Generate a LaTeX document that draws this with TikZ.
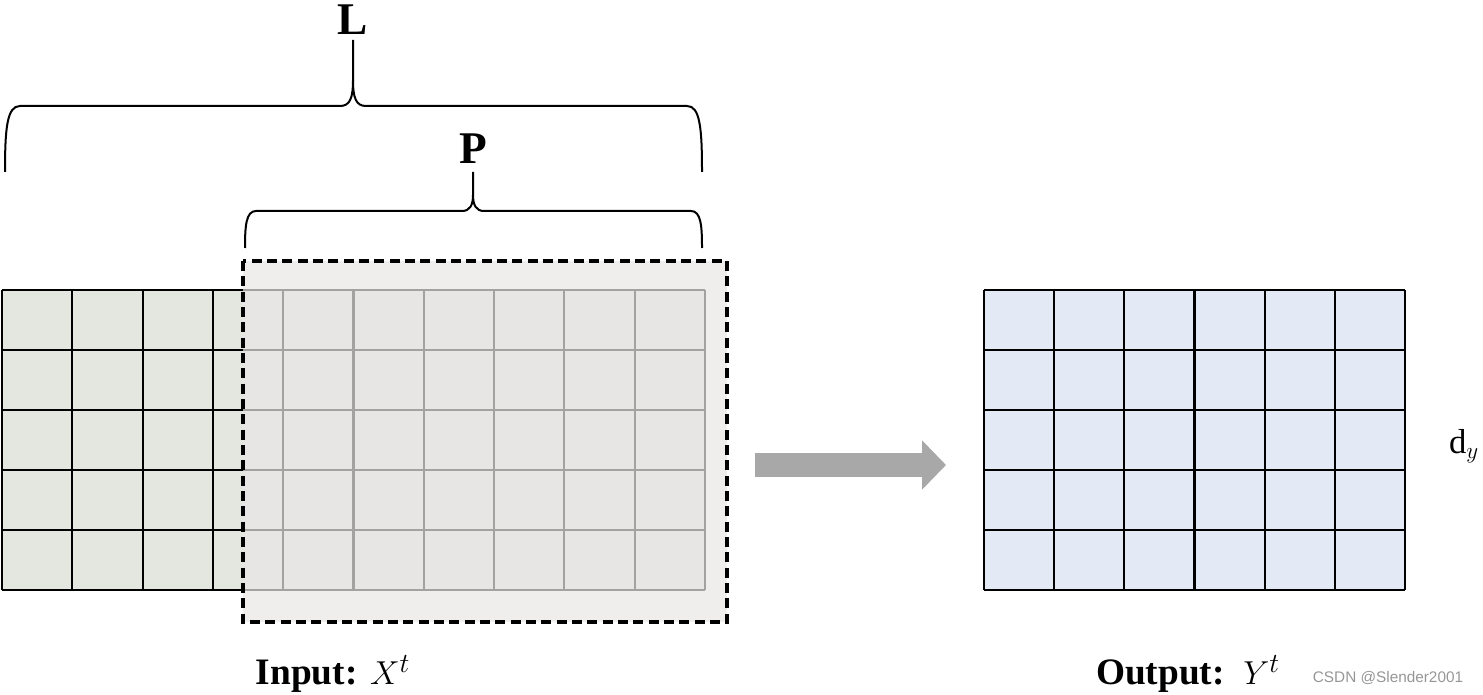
\documentclass[tikz,border=0pt]{standalone}
\usepackage{fontspec}
\setmainfont{Liberation Serif}
\setsansfont{Liberation Sans}
\usetikzlibrary{arrows.meta}
\definecolor{INgreen}{RGB}{228, 231, 224}
\definecolor{OUTblue}{RGB}{227, 234, 246}
\definecolor{WINpink}{RGB}{234, 230, 230}
\definecolor{ARRgray}{RGB}{168, 168, 168}
\definecolor{WMgray}{RGB}{150, 150, 150}
\tikzset{
  gridline/.style={line width=1.6pt, black},
  brace/.style={line width=1.5pt, black},
  window/.style={fill=WINpink, fill opacity=0.7, draw=black, draw opacity=1,
    dash pattern=on 7.5pt off 4pt, line width=2.6pt},
  bigarrow/.style={-{Triangle[length=18pt, width=36pt]}, line width=18pt, ARRgray},
  bold/.style={font=\fontsize{34}{36}\selectfont\bfseries, inner sep=0pt},
  caption/.style={font=\fontsize{28}{30}\selectfont\bfseries, inner sep=0pt},
}

\begin{document}
\begin{tikzpicture}[x=0.75pt, y=-0.75pt]
    \useasboundingbox (0,0) rectangle (1483,695);
    % input grid
    \fill[INgreen] (2,290) rectangle (705,590);
    \foreach \i in {0,...,10} \draw[gridline] (2+70.3*\i,290) -- (2+70.3*\i,590);
    \foreach \j in {0,...,5} \draw[gridline] (2,290+60*\j) -- (705,290+60*\j);
    % window
    \draw[window] (243,261) rectangle (727,622);
    % output grid
    \fill[OUTblue] (984,290) rectangle (1405,590);
    \foreach \i in {0,...,6} \draw[gridline] (984+70.17*\i,290) -- (984+70.17*\i,590);
    \foreach \j in {0,...,5} \draw[gridline] (984,290+60*\j) -- (1405,290+60*\j);
    % braces
    \draw[brace] (5,172) .. controls (5,128) and (7,106) .. (20,106) -- (340,106)
      .. controls (350,106) and (353,98) .. (353,80) -- (353,40);
    \draw[brace] (702,172) .. controls (702,128) and (700,106) .. (687,106) -- (366,106)
      .. controls (356,106) and (353,98) .. (353,80);
    \draw[brace] (245,248) .. controls (245,226) and (246,211) .. (256,211) -- (462,211)
      .. controls (470,211) and (473,205) .. (473,195) -- (473,172);
    \draw[brace] (702,248) .. controls (702,226) and (701,211) .. (691,211) -- (484,211)
      .. controls (476,211) and (473,205) .. (473,195);
    \node[bold] (lblL) at (353,20) {L};
    \node[bold] (lblP) at (473,149) {P};
    % arrow
    \coordinate (arrS) at (755,465);
    \coordinate (arrE) at (946,465);
    \draw[bigarrow] (arrS) -- (arrE);
    % labels
    \node[caption] (inlbl) at (333,674) {Input: $X^t$};
    \node[caption] (outlbl) at (1188,674) {Output:\, $Y^t$};
    \node[font=\fontsize{26}{28}\selectfont, inner sep=0pt] (dy) at (1464,446) {d$_y$};
    \node[font=\sffamily\fontsize{11.5}{13}\selectfont, text=WMgray, inner sep=0pt] (mark) at (1388,678) {CSDN @Slender2001};
\end{tikzpicture}
\end{document}
